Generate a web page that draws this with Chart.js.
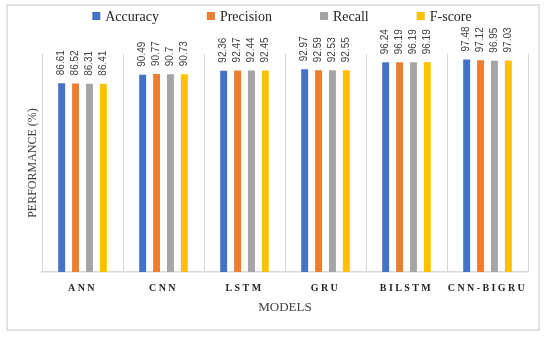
<!DOCTYPE html>
<html>
<head>
<meta charset="utf-8">
<script src="https://cdn.jsdelivr.net/npm/chart.js@4.4.1/dist/chart.umd.min.js"></script>
<style>
  html, body { margin: 0; padding: 0; background: #fff; }
  #wrap { width: 550px; height: 337px; }
</style>
</head>
<body>
<div id="wrap"><canvas id="chart" width="550" height="337"></canvas></div>
<script>
const models = ['ANN', 'CNN', 'LSTM', 'GRU', 'BILSTM', 'CNN-BIGRU'];
const accuracy = [86.61, 90.49, 92.36, 92.97, 96.24, 97.48];
const precision = [86.52, 90.77, 92.47, 92.59, 96.19, 97.12];
const recall = [86.31, 90.7, 92.44, 92.53, 96.19, 96.95];
const fscore = [86.41, 90.73, 92.45, 92.55, 96.19, 97.03];
const seriesNames = ['Accuracy', 'Precision', 'Recall', 'F-score'];
const seriesColors = ['#4472C4', '#ED7D31', '#A5A5A5', '#FFC000'];
const yMin = 0;
const yMax = 100;

// white background + light frame round the whole figure
const frameBorder = {
  id: 'frameBorder',
  beforeDraw(chart) {
    const ctx = chart.ctx;
    ctx.save();
    ctx.fillStyle = '#fff';
    ctx.fillRect(0, 0, chart.width, chart.height);
    ctx.strokeStyle = '#d9d9d9';
    ctx.lineWidth = 1.5;
    ctx.strokeRect(7, 5, 532, 325);
    ctx.restore();
  }
};

// rotated value labels above each bar
const barLabels = {
  id: 'barLabels',
  afterDatasetsDraw(chart) {
    const ctx = chart.ctx;
    ctx.save();
    ctx.font = '10px "Liberation Sans"';
    ctx.fillStyle = '#404040';
    ctx.textAlign = 'left';
    ctx.textBaseline = 'middle';
    chart.data.datasets.forEach((ds, i) => {
      chart.getDatasetMeta(i).data.forEach((bar, j) => {
        ctx.save();
        ctx.translate(bar.x, bar.y - 8);
        ctx.rotate(-Math.PI / 2);
        ctx.fillText(String(ds.data[j]), 0, 0);
        ctx.restore();
      });
    });
    ctx.restore();
  }
};

// legend row with wide gaps, like the office chart
const topLegend = {
  id: 'topLegend',
  afterDraw(chart) {
    const ctx = chart.ctx;
    const box = 8, gapText = 5, gapItem = 48, y = 16;
    ctx.save();
    ctx.font = '14px "Liberation Serif"';
    const items = chart.data.datasets.map(ds => ({
      text: ds.label,
      color: ds.backgroundColor,
      w: ctx.measureText(ds.label).width
    }));
    const total = items.reduce((s, it) => s + box + gapText + it.w, 0) + gapItem * (items.length - 1);
    let x = (chart.chartArea.left + chart.chartArea.right) / 2 - total / 2 - 3;
    ctx.textAlign = 'left';
    ctx.textBaseline = 'middle';
    items.forEach(it => {
      ctx.fillStyle = it.color;
      ctx.fillRect(x, y - box / 2, box, box);
      ctx.fillStyle = '#262626';
      ctx.fillText(it.text, x + box + gapText, y + 1);
      x += box + gapText + it.w + gapItem;
    });
    ctx.restore();
  }
};

// letter-spaced category labels
const spacedTicks = {
  id: 'spacedTicks',
  afterLayout(chart) {
    const sx = chart.scales.x;
    if (!sx || sx._spaced) return;
    const draw = sx.drawLabels.bind(sx);
    sx.drawLabels = function (area) {
      const ctx = this.ctx;
      ctx.save();
      ctx.letterSpacing = '2.4px';
      draw(area);
      ctx.restore();
    };
    sx._spaced = true;
  }
};

const seriesData = [accuracy, precision, recall, fscore];

new Chart(document.getElementById('chart'), {
  type: 'bar',
  data: {
    labels: models,
    datasets: seriesNames.map((name, i) => ({
      label: name,
      data: seriesData[i],
      backgroundColor: seriesColors[i],
      borderWidth: 0,
      categoryPercentage: 0.686,
      barPercentage: 0.5
    }))
  },
  options: {
    responsive: false,
    animation: false,
    layout: { padding: { top: 54, left: 20, right: 22, bottom: 6 } },
    plugins: {
      legend: { display: false },
      tooltip: { enabled: false }
    },
    scales: {
      x: {
        grid: { offset: true, color: '#d9d9d9', drawTicks: false },
        border: { color: '#d9d9d9', width: 1.5 },
        ticks: {
          font: { family: 'Liberation Serif', size: 10, weight: 'bold' },
          color: '#262626',
          padding: 10
        },
        title: {
          display: true,
          text: 'MODELS',
          font: { family: 'Liberation Serif', size: 13 },
          color: '#404040',
          padding: { top: 0, bottom: 16 }
        },
        afterFit(scale) { scale.height = 59; }
      },
      y: {
        min: yMin,
        max: yMax,
        ticks: { display: false },
        grid: { display: false },
        border: { display: false },
        title: {
          display: true,
          text: 'PERFORMANCE (%)',
          font: { family: 'Liberation Serif', size: 12 },
          color: '#404040',
          padding: { top: 6, bottom: 0 }
        },
        afterFit(scale) { scale.width = 22; }
      }
    }
  },
  plugins: [frameBorder, barLabels, topLegend, spacedTicks]
});
</script>
</body>
</html>
